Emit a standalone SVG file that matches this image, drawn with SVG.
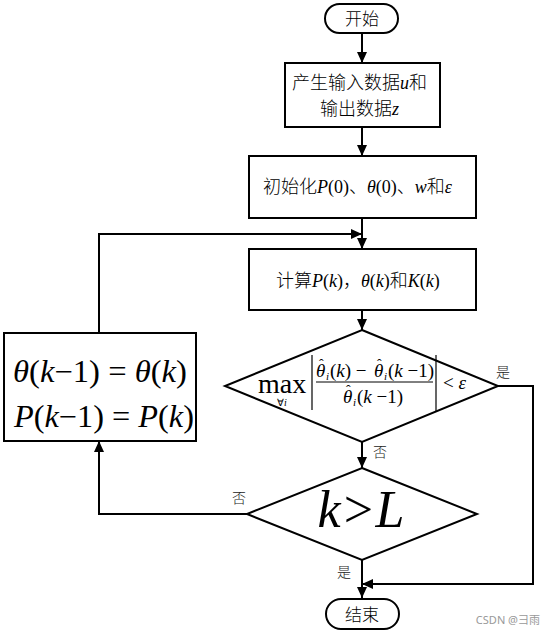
<svg xmlns="http://www.w3.org/2000/svg" width="556" height="635" viewBox="0 0 556 635">
<defs>
<marker id="ah" markerUnits="userSpaceOnUse" markerWidth="12" markerHeight="10" refX="11" refY="5" orient="auto">
<path d="M0,0 L11,5 L0,10 z" fill="#000"/>
</marker>
<style>
.shape{fill:#fff;stroke:#000;stroke-width:2}
.con{fill:none;stroke:#000;stroke-width:2;marker-end:url(#ah)}
.cn{font-family:"Noto Sans CJK SC","Noto Sans",sans-serif;font-weight:300;fill:#000}
.m{font-family:"Liberation Serif",serif;font-weight:normal;fill:#000}
.i{font-style:italic}
.lbl{font-family:"Noto Sans CJK SC",sans-serif;font-weight:300;font-size:14px;fill:#222}
</style>
</defs>
<rect width="556" height="635" fill="#fff"/>
<g id="connectors">
<path class="con" d="M362,33 V63"/>
<path class="con" d="M362,127 V156"/>
<path class="con" d="M362,218 V249"/>
<path class="con" d="M99,333 V234 H362"/>
<path class="con" d="M362,310 V330"/>
<path class="con" d="M362,442 V468"/>
<path class="con" d="M498,386 H533 V584 H362"/>
<path class="con" d="M362,560 V598"/>
<path class="con" d="M247,514 H99 V441"/>
<text class="lbl" x="503" y="377" text-anchor="middle">是</text>
<text class="lbl" x="380" y="457" text-anchor="middle">否</text>
<text class="lbl" x="239" y="503" text-anchor="middle">否</text>
<text class="lbl" x="344" y="577" text-anchor="middle">是</text>
</g>
<g id="start">
<rect class="shape" x="325" y="4" width="73" height="29" rx="14.5"/>
<text class="cn" x="362" y="25" font-size="17" text-anchor="middle">开始</text>
</g>
<g id="gen">
<rect class="shape" x="285" y="63" width="155" height="64"/>
<text class="cn" x="292" y="89" font-size="18">产生输入数据<tspan class="m i">u</tspan>和</text>
<text class="cn" x="320" y="115" font-size="18">输出数据<tspan class="m i">z</tspan></text>
</g>
<g id="init">
<rect class="shape" x="249" y="156" width="227" height="62"/>
<text class="cn" x="263" y="193" font-size="18">初始化<tspan class="m i">P</tspan><tspan class="m">(0)</tspan>、<tspan class="m i">θ</tspan><tspan class="m">(0)</tspan>、<tspan class="m i">w</tspan>和<tspan class="m i">ε</tspan></text>
</g>
<g id="calc">
<rect class="shape" x="249" y="249" width="227" height="61"/>
<text class="cn" x="276" y="287" font-size="18">计算<tspan class="m i">P</tspan><tspan class="m">(</tspan><tspan class="m i">k</tspan><tspan class="m">)</tspan>，<tspan class="m i">θ</tspan><tspan class="m">(</tspan><tspan class="m i">k</tspan><tspan class="m">)</tspan>和<tspan class="m i">K</tspan><tspan class="m">(</tspan><tspan class="m i">k</tspan><tspan class="m">)</tspan></text>
</g>
<g id="check">
<polygon class="shape" points="362,330 498,386 362,442 225,386"/>
<text class="m" x="258" y="393" font-size="28">max</text>
<text class="m" x="277" y="406" font-size="10">∀<tspan class="i">i</tspan></text>
<line x1="312" y1="355" x2="312" y2="410" stroke="#000" stroke-width="1.2"/>
<line x1="436" y1="355" x2="436" y2="412" stroke="#000" stroke-width="1.2"/>
<line x1="316" y1="382" x2="433" y2="382" stroke="#000" stroke-width="1"/>
<text class="m" font-size="19" y="377"><tspan class="i" x="316">θ</tspan><tspan x="319" dy="-8" font-size="14">ˆ</tspan><tspan class="i" x="326" dy="11" font-size="11">i</tspan><tspan x="330" dy="-3">(</tspan><tspan class="i">k</tspan>) − <tspan class="i" x="374">θ</tspan><tspan x="377" dy="-8" font-size="14">ˆ</tspan><tspan class="i" x="384" dy="11" font-size="11">i</tspan><tspan x="388" dy="-3">(</tspan><tspan class="i">k</tspan> −1)</text>
<text class="m" font-size="19" y="403"><tspan class="i" x="343">θ</tspan><tspan x="346" dy="-8" font-size="14">ˆ</tspan><tspan class="i" x="353" dy="11" font-size="11">i</tspan><tspan x="357" dy="-3">(</tspan><tspan class="i">k</tspan> −1)</text>
<text class="m" font-size="19" x="443" y="389">&lt; <tspan class="i">ε</tspan></text>
</g>
<g id="update">
<rect class="shape" x="4" y="333" width="192" height="108"/>
<text class="m" font-size="31" x="13" y="382" textLength="174" lengthAdjust="spacingAndGlyphs"><tspan class="i">θ</tspan>(<tspan class="i">k</tspan>−1) = <tspan class="i">θ</tspan>(<tspan class="i">k</tspan>)</text>
<text class="m" font-size="31" x="14" y="427" textLength="180" lengthAdjust="spacingAndGlyphs"><tspan class="i">P</tspan>(<tspan class="i">k</tspan>−1) = <tspan class="i">P</tspan>(<tspan class="i">k</tspan>)</text>
</g>
<g id="kL">
<polygon class="shape" points="362,468 477,514 362,560 247,514"/>
<text class="m i" font-size="52" x="361" y="527" text-anchor="middle">k&gt;L</text>
</g>
<g id="end">
<rect class="shape" x="326" y="599" width="73" height="30" rx="15"/>
<text class="cn" x="362" y="621" font-size="17" text-anchor="middle">结束</text>
</g>
<text x="540" y="624" font-family="'Noto Sans','Noto Sans CJK SC',sans-serif" font-size="11" fill="#999" text-anchor="end">CSDN @彐雨</text>
</svg>
